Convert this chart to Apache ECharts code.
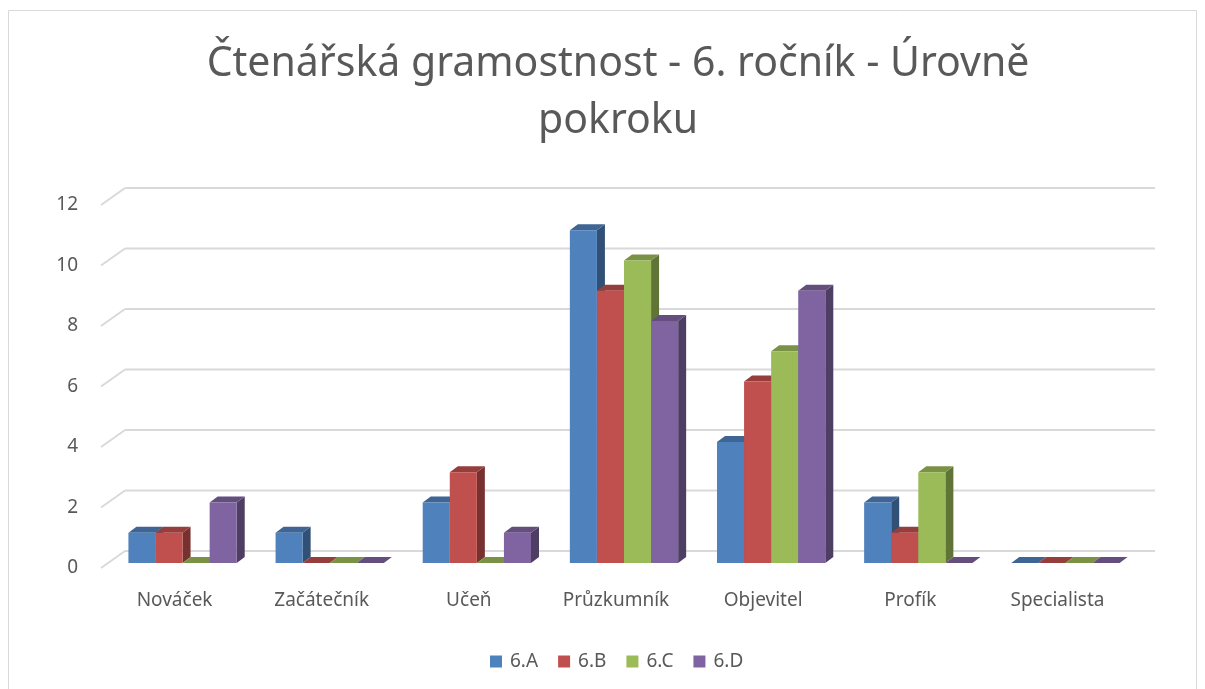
<!DOCTYPE html>
<html>
<head>
<meta charset="utf-8">
<script src="https://cdn.jsdelivr.net/npm/echarts@6/dist/echarts.min.js"></script>
<style>
  html, body { margin: 0; padding: 0; background: #fff; }
  #chart { width: 1205px; height: 689px; }
</style>
</head>
<body>
<div id="chart"></div>
<script>
const categories = ['Nováček', 'Začátečník', 'Učeň', 'Průzkumník', 'Objevitel', 'Profík', 'Specialista']
const seriesNames = ['6.A', '6.B', '6.C', '6.D']
const colors = ['#4F81BD', '#C0504D', '#9BBB59', '#8064A2']
const valuesA = [1, 1, 2, 11, 4, 2, 0]
const valuesB = [1, 0, 3, 9, 6, 1, 0]
const valuesC = [0, 0, 0, 10, 7, 3, 0]
const valuesD = [2, 0, 1, 8, 9, 0, 0]
const yTicks = [0, 2, 4, 6, 8, 10, 12]

const allValues = [valuesA, valuesB, valuesC, valuesD]

// wall depth and bar placement inside it (pixels)
const WALL = [24, -17]
const BAR_OFF = [8, -5]
const BAR_DEPTH = [8, -6]

function shade (hex, f) {
  const n = parseInt(hex.slice(1), 16)
  const r = Math.round(((n >> 16) & 255) * f)
  const g = Math.round(((n >> 8) & 255) * f)
  const b = Math.round((n & 255) * f)
  return 'rgb(' + r + ',' + g + ',' + b + ')'
}

function gridRender (params, api) {
  const cs = params.coordSys
  const y = api.coord([0, api.value(1)])[1]
  const x0 = cs.x
  const x1 = cs.x + cs.width
  const style = { stroke: '#d9d9d9', lineWidth: 2, fill: 'none' }
  return {
    type: 'group',
    children: [
      { type: 'line', shape: { x1: x0, y1: y, x2: x0 + WALL[0], y2: y + WALL[1] }, style },
      { type: 'line', shape: { x1: x0 + WALL[0], y1: y + WALL[1], x2: x1 + WALL[0], y2: y + WALL[1] }, style }
    ]
  }
}

function makeBarRender (si) {
  return function (params, api) {
    const cat = api.value(0)
    const val = api.value(1)
    const band = api.size([1, 0])[0]
    const w = band * 0.184
    const center = api.coord([cat, 0])[0]
    const left = center + BAR_OFF[0] - 2 * w + si * w
    const right = left + w
    const yBase = api.coord([cat, 0])[1] + BAR_OFF[1]
    const yTop = api.coord([cat, val])[1] + BAR_OFF[1]
    const dx = BAR_DEPTH[0]
    const dy = BAR_DEPTH[1]
    const c = colors[si]
    const children = []
    if (val > 0) {
      children.push({
        type: 'polygon',
        shape: { points: [[right, yTop], [right + dx, yTop + dy], [right + dx, yBase + dy], [right, yBase]] },
        style: { fill: shade(c, 0.62) }
      })
    }
    children.push({
      type: 'polygon',
      shape: { points: [[left, yTop], [right, yTop], [right + dx, yTop + dy], [left + dx, yTop + dy]] },
      style: { fill: shade(c, 0.78) }
    })
    if (val > 0) {
      children.push({
        type: 'rect',
        shape: { x: left, y: yTop, width: w, height: yBase - yTop },
        style: { fill: c }
      })
    }
    return { type: 'group', children }
  }
}

const chart = echarts.init(document.getElementById('chart'))

const series = [{
  type: 'custom',
  name: 'grid',
  silent: true,
  renderItem: gridRender,
  data: yTicks.map(t => [0, t]),
  encode: { x: 0, y: 1 },
  z: 1
}]

allValues.forEach((vals, si) => {
  series.push({
    type: 'custom',
    name: seriesNames[si],
    renderItem: makeBarRender(si),
    itemStyle: { color: colors[si] },
    data: vals.map((v, i) => [i, v]),
    encode: { x: 0, y: 1 },
    z: 2
  })
})

const option = {
  animation: false,
  backgroundColor: '#fff',
  textStyle: { fontFamily: 'Noto Sans' },
  graphic: [{
    type: 'rect',
    shape: { x: 8.5, y: 10.5, width: 1188, height: 700 },
    style: { fill: 'none', stroke: '#d9d9d9', lineWidth: 1 },
    silent: true
  }],
  title: {
    text: 'Čtenářská gramostnost - 6. ročník - Úrovně\npokroku',
    left: 613,
    top: 31,
    textAlign: 'center',
    textStyle: { fontSize: 41, fontWeight: 'normal', color: '#595959', lineHeight: 57, fontFamily: 'Noto Sans', align: 'center' }
  },
  legend: {
    data: seriesNames,
    bottom: 13,
    left: 485,
    icon: 'rect',
    itemWidth: 12,
    itemHeight: 12,
    itemGap: 20,
    textStyle: { fontSize: 19, color: '#595959', padding: [0, 0, 0, 3] }
  },
  grid: { left: 101, right: 74, top: 205, bottom: 121, containLabel: false },
  xAxis: {
    type: 'category',
    data: categories,
    axisLine: { show: false },
    axisTick: { show: false },
    axisLabel: { color: '#595959', fontSize: 19, margin: 23 }
  },
  yAxis: {
    type: 'value',
    min: 0,
    max: 12,
    interval: 2,
    axisLine: { show: false },
    axisTick: { show: false },
    splitLine: { show: false },
    axisLabel: { color: '#595959', fontSize: 19, margin: 23 }
  },
  series
}

chart.setOption(option)
</script>
</body>
</html>
